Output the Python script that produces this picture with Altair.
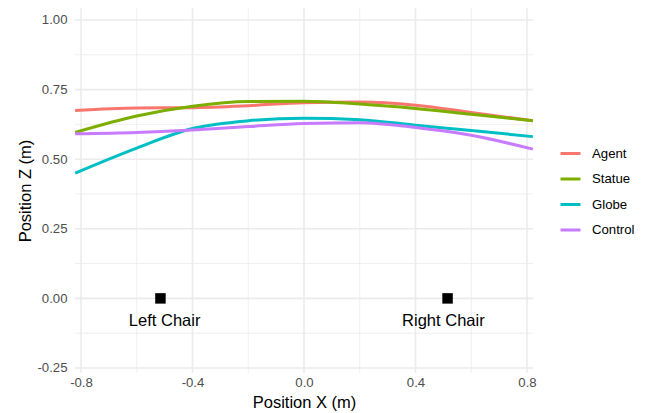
import altair as alt
import pandas as pd

# ---- data ----
conditions = ["Agent", "Statue", "Globe", "Control"]
colors = ["#F8766D", "#7CAE00", "#00BFC4", "#C77CFF"]

x_positions = [-0.821, -0.6, -0.4, -0.2, 0.0, 0.2, 0.4, 0.6, 0.821]
agent = [0.675, 0.684, 0.685, 0.692, 0.703, 0.705, 0.694, 0.668, 0.638]
statue = [0.596, 0.655, 0.690, 0.707, 0.708, 0.698, 0.682, 0.661, 0.638]
globe = [0.450, 0.540, 0.610, 0.638, 0.647, 0.642, 0.622, 0.603, 0.581]
control = [0.591, 0.596, 0.605, 0.617, 0.628, 0.631, 0.614, 0.586, 0.536]

chair_names = ["Left Chair", "Right Chair"]
chair_x = [-0.515, 0.515]
chair_y = [0.0, 0.0]
label_x = [-0.5, 0.5]
label_y = [-0.083, -0.083]

x_major = [-0.8, -0.4, 0.0, 0.4, 0.8]
x_minor = [-0.6, -0.2, 0.2, 0.6]
y_major = [-0.25, 0.0, 0.25, 0.5, 0.75, 1.0]
y_minor = [-0.125, 0.125, 0.375, 0.625, 0.875]

series = {"Agent": agent, "Statue": statue, "Globe": globe, "Control": control}
rows = []
for name in conditions:
    for xv, yv in zip(x_positions, series[name]):
        rows.append({"cond": name, "x": xv, "y": yv})
df = pd.DataFrame(rows)

chairs = pd.DataFrame({"name": chair_names, "x": chair_x, "y": chair_y,
                       "lx": label_x, "ly": label_y})

FONT = "Liberation Sans"
GRID = "#EBEBEB"

xscale = alt.Scale(domain=[-0.8215, 0.8215], nice=False, zero=False)
yscale = alt.Scale(domain=[-0.268, 1.043], nice=False, zero=False)

xaxis = alt.Axis(values=x_major, title="Position X (m)",
                 labelExpr="replace(format(datum.value, '.1f'), '\u2212', '-')",
                 grid=False, domain=False, ticks=False, tickSize=0,
                 labelPadding=3, titleY=29, titleBaseline="middle")
yaxis = alt.Axis(values=y_major, title="Position Z (m)",
                 labelExpr="replace(format(datum.value, '.2f'), '\u2212', '-')",
                 grid=False, domain=False, ticks=False, tickSize=0,
                 labelPadding=8, titleX=-50, titleY=182.5, titleBaseline="middle")


def vgrid(vals, w):
    return alt.Chart(pd.DataFrame({"v": vals})).mark_rule(color=GRID, strokeWidth=w).encode(
        x=alt.X("v:Q", scale=xscale, axis=xaxis))


def hgrid(vals, w):
    return alt.Chart(pd.DataFrame({"v": vals})).mark_rule(color=GRID, strokeWidth=w).encode(
        y=alt.Y("v:Q", scale=yscale, axis=yaxis))


lines = alt.Chart(df).mark_line(strokeWidth=3, interpolate="monotone").encode(
    x=alt.X("x:Q", scale=xscale, axis=xaxis),
    y=alt.Y("y:Q", scale=yscale, axis=yaxis),
    color=alt.Color("cond:N", scale=alt.Scale(domain=conditions, range=colors),
                    sort=conditions,
                    legend=alt.Legend(title=None, orient="none", legendX=484, legendY=134,
                                      symbolType="stroke", symbolSize=400,
                                      symbolStrokeWidth=3, rowPadding=7.5,
                                      labelOffset=10, labelFontSize=13.2,
                                      labelFont=FONT, labelColor="black")),
)

squares = alt.Chart(chairs).mark_square(size=110, color="black", opacity=1).encode(
    x=alt.X("x:Q", scale=xscale, axis=xaxis), y=alt.Y("y:Q", scale=yscale, axis=yaxis))

labels = alt.Chart(chairs).mark_text(font=FONT, fontSize=16.5, color="black",
                                     baseline="middle").encode(
    x=alt.X("lx:Q", scale=xscale, axis=xaxis), y=alt.Y("ly:Q", scale=yscale, axis=yaxis),
    text="name:N")

chart = alt.layer(
    vgrid(x_minor, 0.8), hgrid(y_minor, 0.8), vgrid(x_major, 1.6), hgrid(y_major, 1.6),
    lines, squares, labels
).properties(
    width=458, height=365,
    autosize=alt.AutoSizeParams(type="none"),
    padding={"left": 67, "top": 0, "right": 110, "bottom": 40},
).configure_view(stroke=None).configure_axis(
    labelFont=FONT, labelFontSize=13.2, labelColor="#4D4D4D",
    titleFont=FONT, titleFontSize=16.5, titleColor="black", titleFontWeight="normal",
)

chart.save("out.html", embed_options={"renderer": "svg", "actions": False})
